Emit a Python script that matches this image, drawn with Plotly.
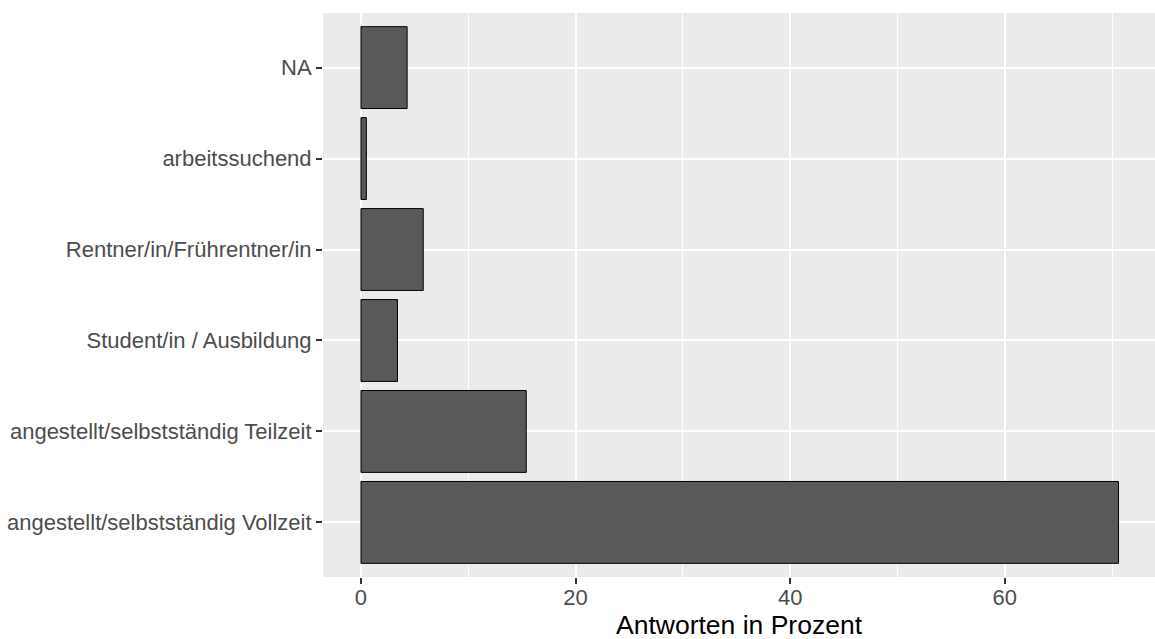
import plotly.graph_objects as go

# Employment status shares (percent of answers), bottom to top
categories = [
    "angestellt/selbstständig Vollzeit",
    "angestellt/selbstständig Teilzeit",
    "Student/in / Ausbildung",
    "Rentner/in/Frührentner/in",
    "arbeitssuchend",
    "NA",
]
percent = [70.6, 15.4, 3.4, 5.8, 0.5, 4.3]
x_ticks = [0, 20, 40, 60]

W, H = 1155, 639
FONT = "Liberation Sans, Arial, Helvetica, sans-serif"

fig = go.Figure(
    go.Bar(
        x=percent,
        y=categories,
        orientation="h",
        width=0.9,
        marker=dict(color="#595959", line=dict(color="black", width=1)),
        hoverinfo="x+y",
    )
)

fig.update_layout(
    width=W,
    height=H,
    margin=dict(l=323, r=0, t=13, b=62),
    paper_bgcolor="white",
    plot_bgcolor="#EBEBEB",
    font=dict(family=FONT, size=22, color="#4D4D4D"),
    showlegend=False,
    bargap=0.1,
)

fig.update_xaxes(
    range=[-3.54, 74.0],
    tickvals=x_ticks,
    ticktext=[str(v) for v in x_ticks],
    showgrid=True,
    gridcolor="white",
    gridwidth=2,
    minor=dict(dtick=10, tick0=0, showgrid=True, gridcolor="white", gridwidth=1.1),
    zeroline=False,
    ticks="outside",
    ticklen=6,
    tickwidth=1.6,
    tickcolor="#333333",
    tickfont=dict(size=22, color="#4D4D4D"),
    ticklabelstandoff=-5,
    showline=False,
    fixedrange=True,
)

fig.update_yaxes(
    type="category",
    categoryorder="array",
    categoryarray=categories,
    range=[-0.6, 5.6],
    showgrid=True,
    gridcolor="white",
    gridwidth=2,
    zeroline=False,
    ticks="outside",
    ticklen=6,
    tickwidth=1.6,
    tickcolor="#333333",
    tickfont=dict(size=22, color="#4D4D4D"),
    showline=False,
    fixedrange=True,
)

fig.add_annotation(
    text="Antworten in Prozent",
    xref="paper",
    yref="paper",
    x=0.5,
    y=0,
    yshift=-48,
    xanchor="center",
    yanchor="middle",
    showarrow=False,
    font=dict(family=FONT, size=26.5, color="black"),
)

fig.write_html("out.html")
